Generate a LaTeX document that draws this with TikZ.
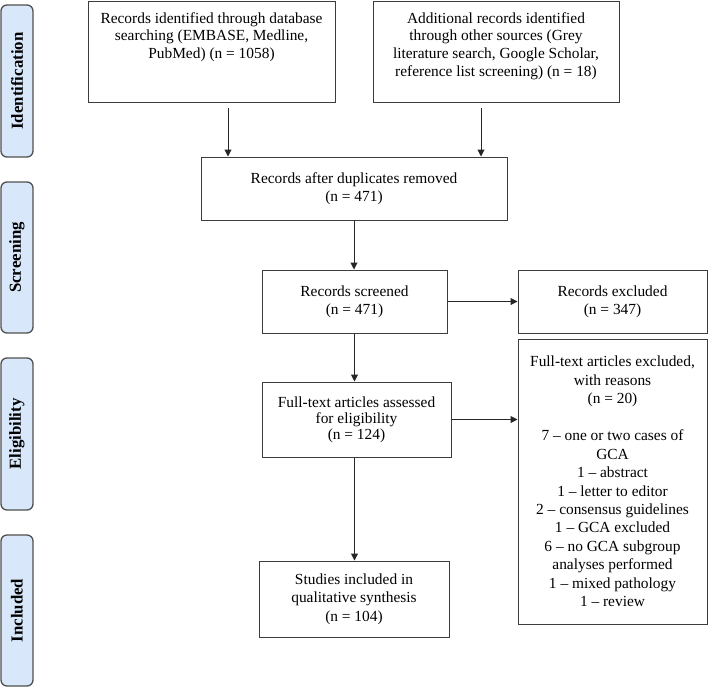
\documentclass[tikz,border=0pt]{standalone}
\usepackage{fontspec}
\setmainfont{Liberation Serif}
\usetikzlibrary{arrows.meta}
\definecolor{sidefill}{RGB}{216,232,250}
\definecolor{sidedraw}{RGB}{80,80,80}
\definecolor{boxdraw}{RGB}{60,60,60}
\tikzset{
  flowbox/.style={draw=boxdraw, line width=1pt, rectangle, align=center, inner sep=0pt,
    font=\fontsize{15.4}{17.6}\selectfont},
  sidelabel/.style={draw=sidedraw, fill=sidefill, line width=1.3pt, rounded corners=6pt,
    rotate=90, minimum height=32pt, inner sep=0pt,
    font=\fontsize{16.8}{19}\selectfont\bfseries},
  arr/.style={draw=black!85, line width=1pt, -{Triangle[length=7pt,width=7pt]}},
}
\begin{document}
\begin{tikzpicture}[x=1pt,y=-1pt]
\useasboundingbox (0,0) rectangle (708,688);
% side labels
\node[sidelabel, minimum width=152pt] (sid) at (17,81) {Identification};
\node[sidelabel, minimum width=151pt] (ssc) at (17,257.5) {Screening};
\node[sidelabel, minimum width=152pt] (sel) at (17,434) {Eligibility};
\node[sidelabel, minimum width=151pt] (sin) at (17,610.5) {Included};
% boxes
\node[flowbox, minimum width=247pt, minimum height=101pt] (b1) at (211.5,51.5) {};
\node[align=center, inner sep=0pt, font=\fontsize{15.4}{17.6}\selectfont] (t1) at (211.5,37)
  {Records identified through database\\searching (EMBASE, Medline,\\PubMed) (n = 1058)};
\node[flowbox, minimum width=246pt, minimum height=101pt] (b2) at (496,51.5) {};
\node[align=center, inner sep=0pt, font=\fontsize{15.4}{17.6}\selectfont] (t2) at (496,46)
  {Additional records identified\\through other sources (Grey\\literature search, Google Scholar,\\reference list screening) (n = 18)};
\node[flowbox, minimum width=306pt, minimum height=63pt] (b3) at (354,188.5)
  {Records after duplicates removed\\(n = 471)};
\node[flowbox, minimum width=185pt, minimum height=63pt] (b4) at (354.5,301.5)
  {Records screened\\(n = 471)};
\node[flowbox, minimum width=189pt, minimum height=63pt] (b5) at (612.5,301.5)
  {Records excluded\\(n = 347)};
\node[flowbox, minimum width=189pt, minimum height=75pt, font=\fontsize{15.4}{16.2}\selectfont] (b6) at (356.5,419.5)
  {Full-text articles assessed\\for eligibility\\(n = 124)};
\node[flowbox, minimum width=189pt, minimum height=285pt, font=\fontsize{15.4}{18.45}\selectfont] (b7) at (612.5,481.5)
  {Full-text articles excluded,\\with reasons\\(n = 20)\\[18.45pt]
   7 -- one or two cases of\\GCA\\1 -- abstract\\1 -- letter to editor\\2 -- consensus guidelines\\
   1 -- GCA excluded\\6 -- no GCA subgroup\\analyses performed\\1 -- mixed pathology\\1 -- review};
\node[flowbox, minimum width=190pt, minimum height=76pt, font=\fontsize{15.4}{18.3}\selectfont] (b8) at (354,599)
  {Studies included in\\qualitative synthesis\\(n = 104)};
% connectors
\draw[arr, shorten <=5pt] ([xshift=16.5pt]b1.south) -- ([xshift=16.5pt]b1.south |- b3.north);
\draw[arr, shorten <=5pt] ([xshift=-15pt]b2.south) -- ([xshift=-15pt]b2.south |- b3.north);
\draw[arr] (b3.south) -- (b3.south |- b4.north);
\draw[arr] (b4.east) -- (b4.east -| b5.west);
\draw[arr] (b4.south) -- (b4.south |- b6.north);
\draw[arr] (b6.east) -- (b6.east -| b7.west);
\draw[arr] (b4.south |- b6.south) -- (b4.south |- b8.north);
\end{tikzpicture}
\end{document}
